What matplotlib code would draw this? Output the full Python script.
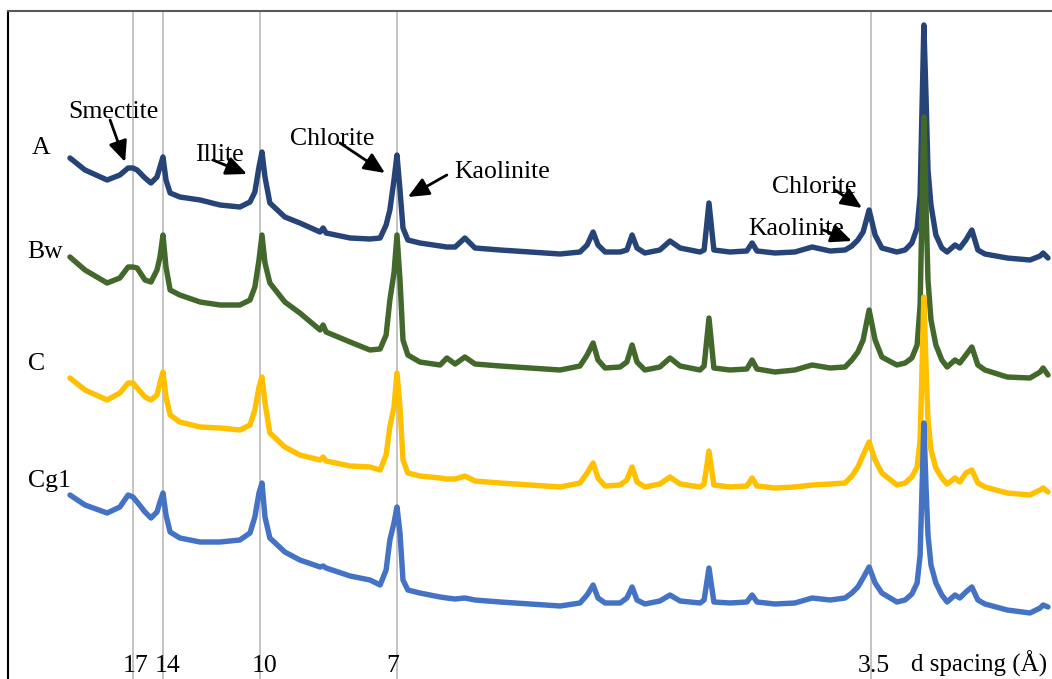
import matplotlib
matplotlib.use("Agg")
import matplotlib.pyplot as plt

# 2-theta positions (degrees)
two_theta = [
    3.92, 4.32, 4.91, 5.25, 5.47, 5.60, 5.71, 5.92, 6.08, 6.24,
    6.32, 6.40, 6.48, 6.59, 6.85, 7.39, 7.92, 8.45, 8.72, 8.85,
    8.96, 9.04, 9.12, 9.25, 9.65, 10.05, 10.59, 10.67, 10.75, 11.39,
    11.92, 12.19, 12.35, 12.45, 12.56, 12.64, 12.72, 12.80, 12.93, 13.25,
    13.79, 13.97, 14.19, 14.45, 14.72, 15.39, 16.19, 16.99, 17.52, 17.71,
    17.87, 18.00, 18.19, 18.59, 18.77, 18.91, 19.04, 19.25, 19.65, 19.92,
    20.19, 20.72, 20.83, 20.96, 21.09, 21.52, 21.97, 22.11, 22.24, 22.72,
    23.25, 23.71, 24.19, 24.59, 24.77, 24.93, 25.07, 25.23, 25.39, 25.57,
    25.97, 26.19, 26.37, 26.51, 26.59, 26.64, 26.69, 26.75, 26.80, 26.88,
    27.01, 27.17, 27.31, 27.52, 27.65, 27.81, 27.97, 28.13, 28.32, 28.91,
    29.52, 29.79, 29.87, 30.00,
]

# stacked intensities (arbitrary units, offset per horizon)
horizon_A = [
    521, 509, 499, 504, 511, 511, 509, 501, 496, 502,
    512, 522, 499, 486, 482, 479, 474, 472, 477, 487,
    512, 527, 502, 476, 462, 456, 447, 451, 446, 441,
    440, 441, 454, 469, 499, 524, 489, 451, 439, 436,
    433, 432, 432, 441, 431, 429, 427, 425, 427, 434,
    447, 434, 427, 427, 429, 444, 431, 426, 429, 438,
    431, 427, 429, 476, 429, 427, 428, 436, 428, 426,
    427, 432, 428, 429, 433, 439, 447, 469, 444, 431,
    427, 429, 436, 451, 484, 569, 654, 579, 509, 474,
    444, 431, 427, 434, 431, 439, 449, 429, 425, 421,
    419, 423, 426, 421,
]
horizon_Bw = [
    422, 409, 396, 401, 412, 412, 411, 399, 397, 409,
    422, 444, 412, 389, 384, 377, 374, 374, 379, 392,
    419, 444, 416, 396, 377, 366, 349, 354, 347, 337,
    329, 330, 344, 379, 406, 444, 399, 339, 324, 317,
    314, 321, 315, 322, 315, 313, 311, 309, 313, 324,
    336, 319, 311, 312, 317, 334, 317, 309, 312, 321,
    313, 309, 313, 361, 311, 309, 310, 319, 310, 307,
    309, 314, 311, 312, 319, 327, 339, 369, 339, 322,
    314, 316, 321, 334, 374, 469, 562, 469, 399, 359,
    334, 319, 312, 319, 316, 324, 332, 314, 309, 302,
    301, 307, 311, 304,
]
horizon_C = [
    301, 289, 279, 286, 296, 296, 291, 282, 279, 284,
    296, 307, 282, 264, 257, 252, 251, 249, 254, 269,
    292, 302, 276, 246, 232, 224, 219, 222, 218, 213,
    212, 209, 224, 252, 272, 306, 272, 219, 206, 203,
    201, 200, 200, 203, 198, 196, 194, 192, 196, 206,
    216, 201, 193, 194, 199, 212, 197, 192, 195, 202,
    195, 192, 195, 228, 194, 192, 193, 201, 193, 191,
    192, 194, 195, 196, 203, 212, 224, 237, 219, 206,
    194, 196, 202, 212, 239, 309, 382, 309, 259, 229,
    211, 201, 195, 201, 197, 206, 209, 196, 192, 186,
    184, 189, 191, 187,
]
horizon_Cg1 = [
    184, 174, 166, 172, 184, 182, 177, 167, 161, 167,
    177, 186, 164, 147, 141, 137, 137, 139, 146, 162,
    186, 196, 162, 141, 127, 119, 112, 113, 111, 103,
    99, 94, 109, 139, 156, 172, 146, 99, 89, 86,
    82, 81, 80, 81, 79, 77, 75, 73, 76, 84,
    94, 81, 76, 76, 81, 92, 79, 75, 78, 84,
    78, 76, 79, 111, 77, 76, 77, 84, 77, 75,
    76, 81, 79, 81, 86, 92, 101, 112, 96, 86,
    77, 79, 85, 96, 124, 189, 256, 189, 144, 114,
    96, 84, 77, 84, 81, 87, 92, 79, 75, 69,
    66, 71, 74, 72,
]

series_names = ["A", "Bw", "C", "Cg1"]
series_colors = ["#264478", "#43682B", "#FFC000", "#4472C4"]

# reference d-spacing lines (2-theta) and labels
ref_lines = [5.60, 6.40, 8.99, 12.64, 25.28]
ref_labels = ["17", "14", "10", "7", "3.5"]
ref_label_x = [5.68, 6.53, 9.12, 12.53, 25.36]

FONT = "Liberation Serif"
FS = 18.5

fig = plt.figure(figsize=(10.52, 6.79), dpi=100)
ax = fig.add_axes([8 / 1052, 0, 1044 / 1052, 668 / 679])
ax.set_xlim(2.267, 30.107)
ax.set_ylim(0, 668)

for xv in ref_lines:
    ax.axvline(xv, color="#b4b4b4", lw=1.1, zorder=1)

for vals, col in zip([horizon_A, horizon_Bw, horizon_C, horizon_Cg1], series_colors):
    ax.plot(two_theta, vals, color=col, lw=3.9, solid_joinstyle="round",
            solid_capstyle="round", zorder=2)

# horizon labels
label_pos = [(2.91, 525), (2.77, 421), (2.80, 309), (2.80, 192)]
for name, (lx, ly) in zip(series_names, label_pos):
    ax.text(lx, ly, name, family=FONT, fontsize=FS, ha="left", va="baseline")

# bottom d-spacing labels
for lab, lx in zip(ref_labels, ref_label_x):
    ax.text(lx, 7, lab, family=FONT, fontsize=FS, ha="center", va="baseline")
ax.text(26.36, 7, "d spacing (Å)", family=FONT, fontsize=18, ha="left", va="baseline")

# mineral annotations: (text, text_x, text_y, tail_x, tail_y, tip_x, tip_y)
notes = [
    ("Smectite", 3.87, 561, 4.99, 559, 5.39, 517),
    ("Illite", 7.25, 518, 7.73, 519, 8.64, 505),
    ("Chlorite", 9.79, 534, 11.12, 536, 12.32, 506),
    ("Kaolinite", 14.16, 501, 13.97, 504, 12.93, 482),
    ("Chlorite", 22.64, 486, 24.32, 489, 25.04, 471),
    ("Kaolinite", 22.00, 444, 24.00, 449, 24.77, 438),
]
for txt, tx, ty, ax0, ay0, ax1, ay1 in notes:
    ax.text(tx, ty, txt, family=FONT, fontsize=FS, ha="left", va="baseline", zorder=5)
    ax.annotate("", xy=(ax1, ay1), xytext=(ax0, ay0),
                arrowprops=dict(arrowstyle="-|>,head_length=0.9,head_width=0.4",
                                color="black", lw=2.0, shrinkA=0, shrinkB=0,
                                mutation_scale=14), zorder=6)

ax.set_xticks([])
ax.set_yticks([])
ax.spines["right"].set_visible(False)
ax.spines["bottom"].set_visible(False)
ax.spines["left"].set_color("black")
ax.spines["left"].set_linewidth(1.5)
ax.spines["top"].set_color("#595959")
ax.spines["top"].set_linewidth(1.5)

fig.savefig("out.png", dpi=100)
